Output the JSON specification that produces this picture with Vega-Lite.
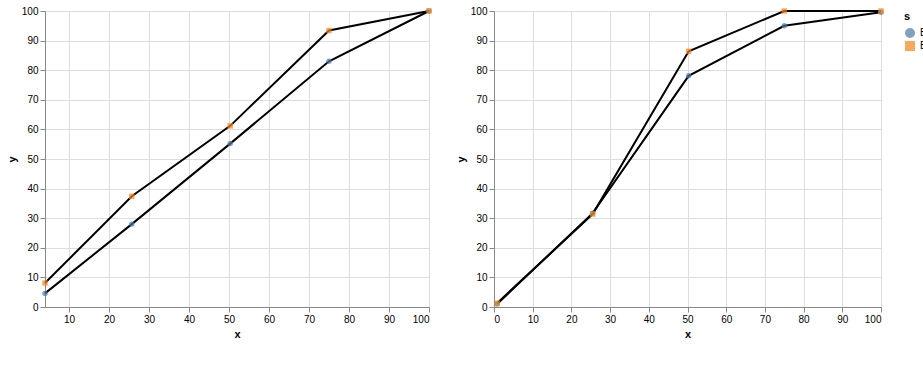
{
"$schema":"https://vega.github.io/schema/vega-lite/v6.json",
"datasets":{
"A":[
{"x":4.0,"y":4.6,"s":"Bld. Profile 1"},{"x":25.7,"y":28.0,"s":"Bld. Profile 1"},{"x":50.3,"y":55.2,"s":"Bld. Profile 1"},{"x":75.0,"y":83.0,"s":"Bld. Profile 1"},{"x":100,"y":100,"s":"Bld. Profile 1"},
{"x":4.0,"y":8.1,"s":"Bld. Profile 5"},{"x":25.7,"y":37.4,"s":"Bld. Profile 5"},{"x":50.3,"y":61.2,"s":"Bld. Profile 5"},{"x":75.0,"y":93.4,"s":"Bld. Profile 5"},{"x":100,"y":100,"s":"Bld. Profile 5"}
],
"B":[
{"x":0.8,"y":1.0,"s":"Bld. Profile 1"},{"x":25.5,"y":31.7,"s":"Bld. Profile 1"},{"x":50.3,"y":78.1,"s":"Bld. Profile 1"},{"x":75.0,"y":95.0,"s":"Bld. Profile 1"},{"x":100,"y":99.6,"s":"Bld. Profile 1"},
{"x":0.8,"y":1.3,"s":"Bld. Profile 5"},{"x":25.5,"y":31.4,"s":"Bld. Profile 5"},{"x":50.3,"y":86.4,"s":"Bld. Profile 5"},{"x":75.0,"y":100,"s":"Bld. Profile 5"},{"x":100,"y":100,"s":"Bld. Profile 5"}
]
},
"hconcat":[
{
"width":384,"height":296,
"data":{"name":"A"},
"encoding":{
"x":{"field":"x","type":"quantitative","scale":{"domain":[4,100],"nice":false,"zero":false}},
"y":{"field":"y","type":"quantitative","scale":{"domain":[0,100],"nice":false}}
},
"layer":[
{"mark":{"type":"line","color":"#000000"},"encoding":{"detail":{"field":"s"}}},
{"mark":{"type":"point","filled":true},"encoding":{"color":{"field":"s","type":"nominal"},"shape":{"field":"s","type":"nominal"}}}
]
},
{
"width":387,"height":296,
"data":{"name":"B"},
"encoding":{
"x":{"field":"x","type":"quantitative","scale":{"domain":[0,100],"nice":false,"zero":false}},
"y":{"field":"y","type":"quantitative","scale":{"domain":[0,100],"nice":false}}
},
"layer":[
{"mark":{"type":"line","color":"#000000"},"encoding":{"detail":{"field":"s"}}},
{"mark":{"type":"point","filled":true},"encoding":{"color":{"field":"s","type":"nominal"},"shape":{"field":"s","type":"nominal"}}}
]
}
]
}
